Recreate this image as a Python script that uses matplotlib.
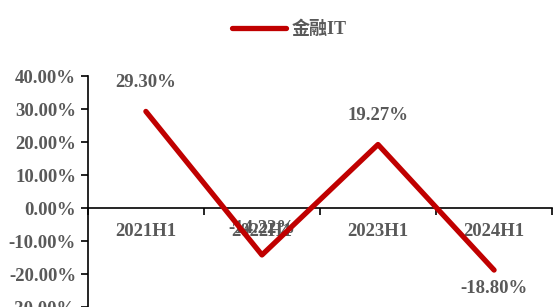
import matplotlib.pyplot as plt
import numpy as np

# datos
periodos = ["2021H1", "2022H1", "2023H1", "2024H1"]
valores = [29.30, -14.22, 19.27, -18.80]
serie = "金融IT"

# desplazamiento vertical de las etiquetas (pt), como en el original
desplaz = [21, 19, 21, -13]

plt.rcParams['font.family'] = ['Liberation Serif', 'Noto Sans CJK SC', 'DejaVu Sans']
gris = "#595959"
rojo = "#C00000"

fig = plt.figure(figsize=(5.56, 3.07), dpi=100)
ax = fig.add_axes([0.158, 0.0, 0.835, 0.752])

x = np.arange(len(periodos))
ax.plot(x, valores, color=rojo, linewidth=3.8, solid_capstyle='round', label=serie, zorder=3)

for xi, v, off in zip(x, valores, desplaz):
    ax.annotate(f"{v:.2f}%", (xi, v), xytext=(0, off), textcoords="offset points",
                ha="center", va="center", fontsize=13.5, fontweight="bold", color=gris,
                zorder=2)

ax.set_xlim(-0.5, len(periodos) - 0.5)
ax.set_ylim(-30, 40)
ax.set_yticks(np.arange(-30, 41, 10))
ax.set_yticklabels([f"{t:.2f}%" for t in np.arange(-30, 41, 10)], fontsize=13.5,
                   fontweight="bold", color=gris)
ax.tick_params(axis="y", direction="out", length=5, width=1.2)

ax.spines["bottom"].set_position(("data", 0))
ax.spines["top"].set_visible(False)
ax.spines["right"].set_visible(False)
ax.spines["left"].set_linewidth(1.2)
ax.spines["bottom"].set_linewidth(1.2)
ax.set_xticks(x)
ax.set_xticklabels(periodos, fontsize=13.5, fontweight="bold", color=gris)
ax.tick_params(axis="x", which="major", length=0, pad=11)
ax.set_xticks(np.arange(-0.5, len(periodos)), minor=True)
ax.tick_params(axis="x", which="minor", direction="out", length=5, width=1.2)

leg = fig.legend(loc="center", bbox_to_anchor=(0.52, 0.905), frameon=False,
                 fontsize=13, handlelength=3.0, handletextpad=0.3)
for t in leg.get_texts():
    t.set_color(gris)
    t.set_fontweight("bold")

fig.savefig("out.png", dpi=100)
